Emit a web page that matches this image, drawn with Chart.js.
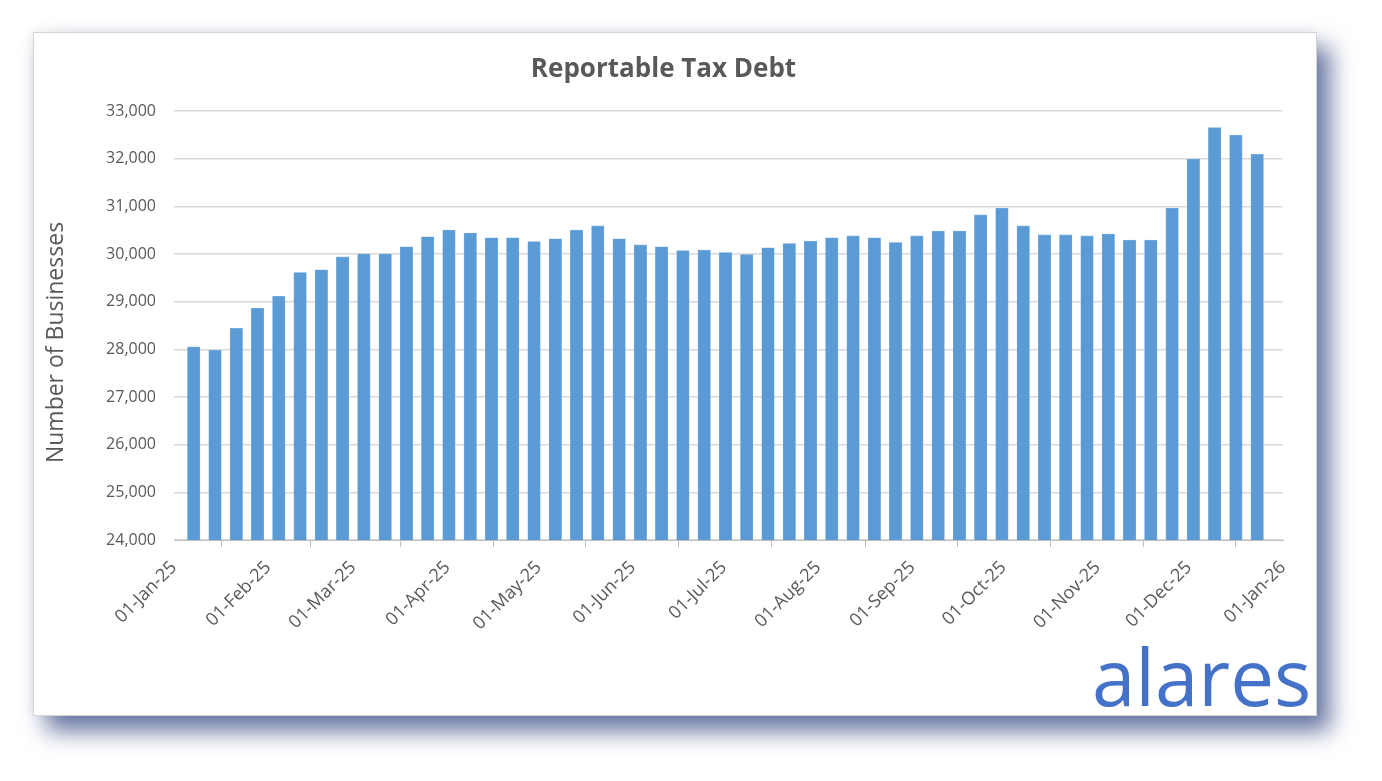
<!DOCTYPE html>
<html lang="en">
<head>
  <meta charset="UTF-8" />
  <title>Reportable Tax Debt</title>
  <script src="https://cdn.jsdelivr.net/npm/chart.js"></script>
  <style>
    body {
      margin: 0;
      background: #ffffff;
      font-family: "Open Sans", sans-serif;
    }
    .card {
      position: absolute;
      left: 33px;
      top: 32px;
      width: 1282px;
      height: 682px;
      background: #ffffff;
      border: 1px solid #d4d4d4;
      box-shadow: 13px 15px 22px rgba(45, 65, 125, 0.72), -2px -2px 10px rgba(0, 0, 0, 0.06);
    }
    .chart-wrapper {
      position: relative;
      width: 1282px;
      height: 682px;
    }
    .logo {
      position: absolute;
      left: 1058px;
      top: 604px;
      font-family: "Open Sans", sans-serif;
      font-size: 78px;
      line-height: 1;
      color: #4472c8;
    }
  </style>
</head>
<body>
  <div class="card">
    <div class="chart-wrapper">
      <canvas id="debtChart"></canvas>
    </div>
    <div class="logo">alares</div>
  </div>

  <script>
    const weekDates = [
      '2025-01-07', '2025-01-14', '2025-01-21', '2025-01-28',
      '2025-02-04', '2025-02-11', '2025-02-18', '2025-02-25',
      '2025-03-04', '2025-03-11', '2025-03-18', '2025-03-25',
      '2025-04-01', '2025-04-08', '2025-04-15', '2025-04-22', '2025-04-29',
      '2025-05-06', '2025-05-13', '2025-05-20', '2025-05-27',
      '2025-06-03', '2025-06-10', '2025-06-17', '2025-06-24',
      '2025-07-01', '2025-07-08', '2025-07-15', '2025-07-22', '2025-07-29',
      '2025-08-05', '2025-08-12', '2025-08-19', '2025-08-26',
      '2025-09-02', '2025-09-09', '2025-09-16', '2025-09-23', '2025-09-30',
      '2025-10-07', '2025-10-14', '2025-10-21', '2025-10-28',
      '2025-11-04', '2025-11-11', '2025-11-18', '2025-11-25',
      '2025-12-02', '2025-12-09', '2025-12-16', '2025-12-23'
    ];

    const businesses = [
      28050, 27980, 28440, 28860,
      29110, 29610, 29670, 29940,
      30000, 30000, 30150, 30360,
      30500, 30440, 30340, 30340, 30260,
      30320, 30500, 30590, 30320,
      30190, 30150, 30070, 30080,
      30030, 29990, 30130, 30220, 30270,
      30340, 30380, 30340, 30240,
      30380, 30480, 30480, 30820, 30960,
      30590, 30400, 30400, 30380,
      30420, 30290, 30290, 30960,
      31990, 32650, 32490, 32090
    ];

    const tickDates = [
      '2025-01-01', '2025-02-01', '2025-03-01', '2025-04-01', '2025-05-01', '2025-06-01', '2025-07-01',
      '2025-08-01', '2025-09-01', '2025-10-01', '2025-11-01', '2025-12-01', '2026-01-01'
    ];
    const tickLabels = [
      '01-Jan-25', '01-Feb-25', '01-Mar-25', '01-Apr-25', '01-May-25', '01-Jun-25', '01-Jul-25',
      '01-Aug-25', '01-Sep-25', '01-Oct-25', '01-Nov-25', '01-Dec-25', '01-Jan-26'
    ];

    const yTicks = [24000, 25000, 26000, 27000, 28000, 29000, 30000, 31000, 32000, 33000];

    // days since 1 Jan 2025; a bar sits in the middle of its day, like Excel's date axis
    const dayOf = s => (Date.parse(s) - Date.parse('2025-01-01')) / 86400000;

    const textColor = '#595959';

    // y axis title, drawn by hand because Excel sets it a little below the axis middle
    const yTitlePlugin = {
      id: 'yTitle',
      afterDraw(chart) {
        const { ctx, chartArea } = chart;
        ctx.save();
        ctx.translate(22, (chartArea.top + chartArea.bottom) / 2 + 17);
        ctx.rotate(-Math.PI / 2);
        ctx.font = '23px "Open Sans"';
        ctx.fillStyle = textColor;
        ctx.textAlign = 'center';
        ctx.textBaseline = 'middle';
        ctx.fillText('Number of Businesses', 0, 0);
        ctx.restore();
      }
    };

    new Chart(document.getElementById('debtChart'), {
      type: 'bar',
      data: {
        datasets: [{
          label: 'Number of Businesses',
          data: weekDates.map((d, i) => ({ x: dayOf(d) + 0.5, y: businesses[i] })),
          backgroundColor: '#5b9bd5',
          borderColor: '#7db0df',
          borderWidth: 0.6,
          barThickness: 12.5
        }]
      },
      options: {
        responsive: true,
        maintainAspectRatio: false,
        animation: false,
        layout: {
          padding: { left: 10, right: 33, top: 0, bottom: 0 }
        },
        plugins: {
          legend: { display: false },
          tooltip: { enabled: false },
          title: {
            display: true,
            text: 'Reportable Tax Debt',
            color: textColor,
            font: { family: 'Open Sans', size: 26, weight: 'bold' },
            padding: { top: 21, bottom: 25.8 }
          }
        },
        scales: {
          x: {
            type: 'linear',
            offset: false,
            min: dayOf(tickDates[0]),
            max: dayOf(tickDates[tickDates.length - 1]),
            afterBuildTicks: scale => {
              scale.ticks = tickDates.map(d => ({ value: dayOf(d) }));
            },
            afterFit: scale => { scale.height = 175; },
            ticks: {
              autoSkip: false,
              minRotation: 45,
              maxRotation: 45,
              padding: 10,
              color: textColor,
              font: { family: 'Open Sans', size: 18 },
              callback: (value, index) => tickLabels[index]
            },
            grid: {
              drawOnChartArea: false,
              drawTicks: true,
              tickLength: 7,
              color: '#bfbfbf'
            },
            border: { color: '#bfbfbf', width: 1 }
          },
          y: {
            min: yTicks[0],
            max: yTicks[yTicks.length - 1],
            afterBuildTicks: scale => {
              scale.ticks = yTicks.map(v => ({ value: v }));
            },
            afterFit: scale => { scale.width = 130; },
            ticks: {
              padding: 18,
              color: textColor,
              font: { family: 'Open Sans', size: 16 },
              callback: v => v.toLocaleString('en-US')
            },
            grid: {
              color: '#d9d9d9',
              lineWidth: 1.5,
              drawTicks: false
            },
            border: { display: false }
          }
        }
      },
      plugins: [yTitlePlugin]
    });
  </script>
</body>
</html>
